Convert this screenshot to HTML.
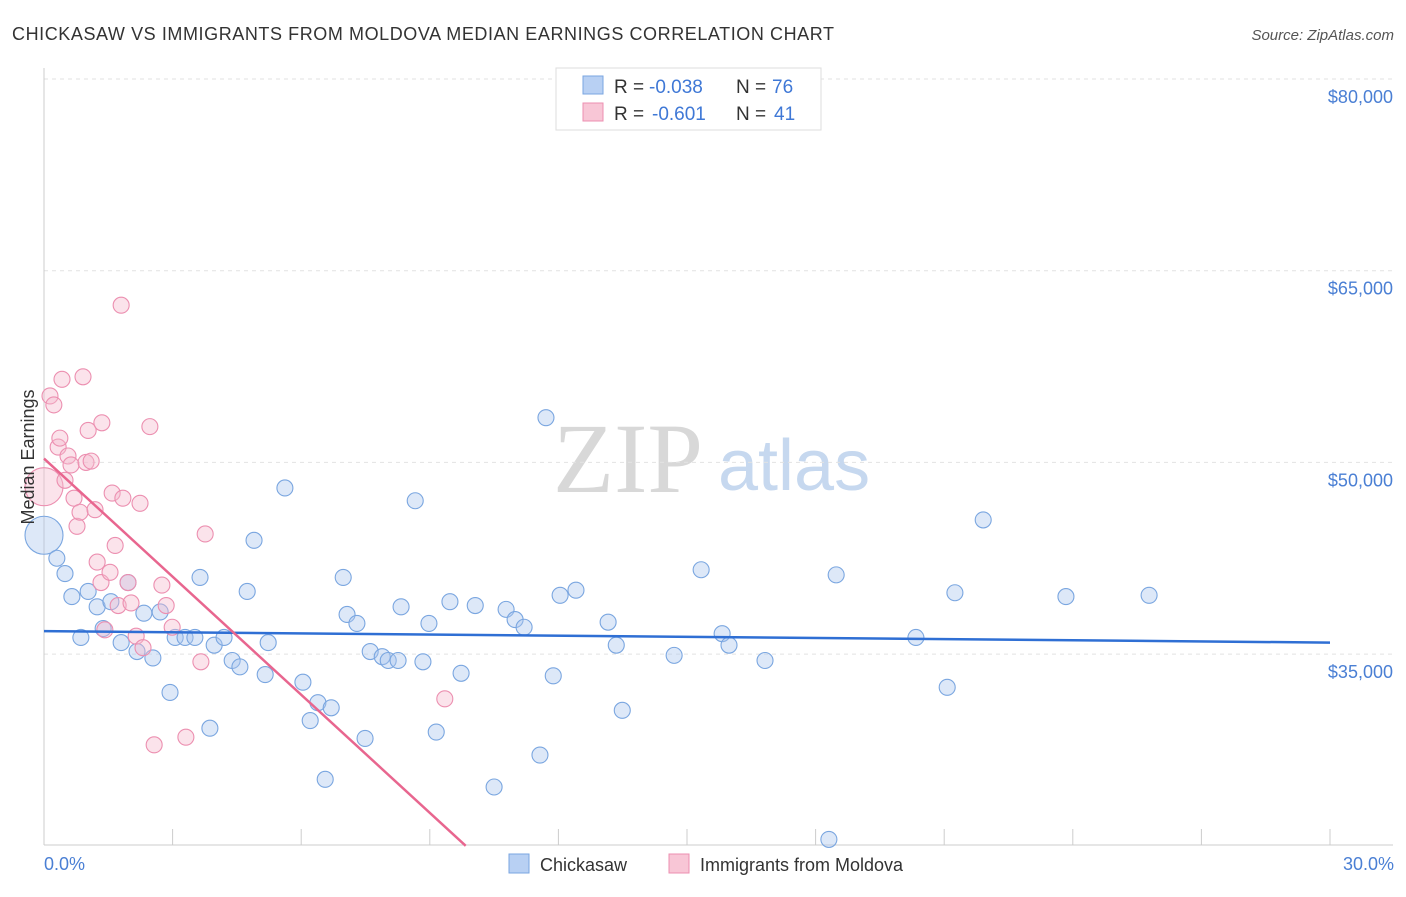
<!DOCTYPE html>
<html><head><meta charset="utf-8"><style>
body{margin:0;background:#fff;font-family:"Liberation Sans",sans-serif}
</style></head><body>
<svg id="chart" width="1406" height="892" viewBox="0 0 1406 892" xmlns="http://www.w3.org/2000/svg" font-family="Liberation Sans, sans-serif">
<text x="12" y="40" font-size="18" fill="#333" textLength="822">CHICKASAW VS IMMIGRANTS FROM MOLDOVA MEDIAN EARNINGS CORRELATION CHART</text>
<text x="1394" y="40" font-size="15" fill="#555" font-style="italic" text-anchor="end">Source: ZipAtlas.com</text>
<g>
<text x="553" y="492" font-size="100" fill="#d8d8d8" style="font-family:'Liberation Serif',serif">ZIP</text>
<text x="718" y="490" font-size="72" fill="#c6d8ef">atlas</text>
</g>
<g id="grid"></g><g id="axes"></g><g id="marks"></g>
<text x="34" y="457" font-size="18" fill="#333" text-anchor="middle" transform="rotate(-90 34 457)">Median Earnings</text>
<text x="44" y="870" font-size="18" fill="#4a7fd4">0.0%</text>
<text x="1394" y="870" font-size="18" fill="#4a7fd4" text-anchor="end">30.0%</text>
<g>
<rect x="556" y="68" width="265" height="62" fill="#fff" stroke="#ddd"/>
<rect x="583" y="76" width="20" height="18" fill="#b8d0f3" stroke="#7aa6e0"/>
<text x="614" y="93" font-size="19" fill="#333">R =</text>
<text x="649" y="93" font-size="19" fill="#3f78d6">-0.038</text>
<text x="736" y="93" font-size="19" fill="#333">N =</text>
<text x="772" y="93" font-size="19" fill="#3f78d6">76</text>
<rect x="583" y="103" width="20" height="18" fill="#f8c6d6" stroke="#ec8fb0"/>
<text x="614" y="120" font-size="19" fill="#333">R =</text>
<text x="652" y="120" font-size="19" fill="#3f78d6">-0.601</text>
<text x="736" y="120" font-size="19" fill="#333">N =</text>
<text x="774" y="120" font-size="19" fill="#3f78d6">41</text>
</g>
<g>
<rect x="509" y="854" width="20" height="19" fill="#b8d0f3" stroke="#7aa6e0"/>
<text x="540" y="871" font-size="18" fill="#333">Chickasaw</text>
<rect x="669" y="854" width="20" height="19" fill="#f8c6d6" stroke="#ec8fb0"/>
<text x="700" y="871" font-size="18" fill="#333">Immigrants from Moldova</text>
</g>
</svg>
<script>
const yTicks=[80000,65000,50000,35000];
const yTickLabels=["$80,000","$65,000","$50,000","$35,000"];
const xTicks=[0,3,6,9,12,15,18,21,24,27,30];
const blueX=[0,0.30,0.49,0.65,0.86,1.03,1.24,1.38,1.56,1.80,1.96,2.17,2.33,2.54,2.71,2.94,3.06,3.29,3.52,3.64,3.87,3.97,4.20,4.39,4.57,4.74,4.90,5.16,5.23,5.62,6.04,6.21,6.39,6.56,6.70,6.98,7.07,7.30,7.49,7.61,7.89,8.03,8.26,8.33,8.66,8.84,8.98,9.15,9.47,9.73,10.06,10.50,10.78,10.99,11.20,11.57,11.71,11.88,12.04,12.41,13.16,13.35,13.49,14.70,15.33,15.82,15.98,16.82,18.31,18.48,20.34,21.07,21.25,21.91,23.84,25.78];
const blueY=[44.3,42.5,41.3,39.5,36.3,39.9,38.7,37.0,39.1,35.9,40.6,35.2,38.2,34.7,38.3,32.0,36.3,36.3,36.3,41.0,29.2,35.7,36.3,34.5,34.0,39.9,43.9,33.4,35.9,48.0,32.8,29.8,31.2,25.2,30.8,41.0,38.1,37.4,28.4,35.2,34.8,34.5,34.5,38.7,47.0,34.4,37.4,28.9,39.1,33.5,38.8,24.6,38.5,37.7,37.1,27.1,53.5,33.3,39.6,40.0,37.5,35.7,30.6,34.9,41.6,36.6,35.7,34.5,20.5,41.2,36.3,32.4,39.8,45.5,39.5,39.6];
const pinkX=[0,0.14,0.23,0.33,0.37,0.42,0.49,0.56,0.63,0.70,0.77,0.84,0.91,0.98,1.03,1.10,1.19,1.24,1.33,1.35,1.42,1.54,1.59,1.66,1.73,1.84,1.96,2.03,2.15,2.24,2.31,2.47,2.57,2.75,2.85,2.99,3.31,3.66,3.76,1.80,9.35];
const pinkY=[48.1,55.2,54.5,51.2,51.9,56.5,48.6,50.5,49.8,47.2,45.0,46.1,56.7,50.0,52.5,50.1,46.3,42.2,40.6,53.1,36.9,41.4,47.6,43.5,38.8,47.2,40.6,39.0,36.4,46.8,35.5,52.8,27.9,40.4,38.8,37.1,28.5,34.4,44.4,62.3,31.5];
const blueTrend=[36.8,35.9];   // value at 0% and 30%
const pinkTrend=[50.3,-3.08];  // intercept, slope per %
const NS="http://www.w3.org/2000/svg";
const X=v=>44+v/30*1286;
const Y=v=>79+(80000-v)/15000*191.7;
function mk(tag,attrs,parent){const e=document.createElementNS(NS,tag);for(const k in attrs)e.setAttribute(k,attrs[k]);parent.appendChild(e);return e;}
const grid=document.getElementById('grid'),axes=document.getElementById('axes'),marks=document.getElementById('marks');
yTicks.forEach((t,i)=>{
 const l=mk('line',{x1:44,x2:1393,y1:Y(t),y2:Y(t),stroke:'#e2e2e2','stroke-dasharray':'4 4'},grid);
 
 
 const tx=mk('text',{x:1393,y:Y(t)+24,'font-size':18,fill:'#4a7fd4','text-anchor':'end'},grid);
 tx.textContent=yTickLabels[i];
 
 
});
const ya=mk('line',{x1:44,x2:44,y1:68,y2:845,stroke:'#ccc'},axes);


const xa=mk('line',{x1:44,x2:1393,y1:845,y2:845,stroke:'#ccc'},axes);


xTicks.forEach(t=>{
 const l=mk('line',{x1:X(t),x2:X(t),y1:829,y2:845,stroke:'#ccc'},axes);
 
 
});
function dots(xs,ys,fill,stroke,name){
 xs.forEach((x,i)=>{
  const r=(i===0)?19:8;
  const c=mk('circle',{cx:X(x),cy:Y(ys[i]*1000),r:r,fill:fill,'fill-opacity':0.4,stroke:stroke,'stroke-width':1.1},marks);
  
  
 });
}
dots(blueX,blueY,'#a9c6ee','#7aa6e0','chickasaw-point');
dots(pinkX,pinkY,'#f5b8cc','#ec8fb0','moldova-point');
const bl=mk('line',{x1:X(0),y1:Y(blueTrend[0]*1000),x2:X(30),y2:Y(blueTrend[1]*1000),stroke:'#2f6fd4','stroke-width':2.5},marks);


const xEnd=(20-pinkTrend[0])/pinkTrend[1];
const pl=mk('line',{x1:X(0),y1:Y(pinkTrend[0]*1000),x2:X(xEnd),y2:Y(20000),stroke:'#e8668f','stroke-width':2.5},marks);


</script>
</body></html>
